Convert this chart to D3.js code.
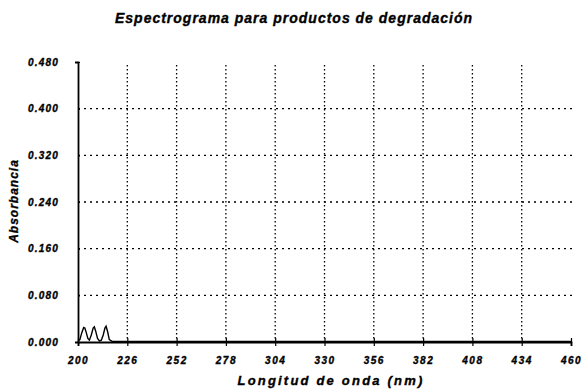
<!DOCTYPE html>
<html>
<head>
<meta charset="utf-8">
<script src="https://cdn.jsdelivr.net/npm/d3@7"></script>
<style>
  body { margin: 0; background: #fff; }
  text { font-family: "Liberation Sans", Arial, sans-serif; font-weight: bold; font-style: italic; fill: #000; stroke: #000; stroke-width: 0.35px; }
</style>
</head>
<body>
<div id="chart"></div>
<script>
// data
var wavelength = [200, 201, 202, 203, 203.6, 204.3, 205.2, 206, 207, 208, 208.6, 209.3, 210.3, 211.3, 212.3, 213.3, 214.2, 214.8, 215.6, 216.5, 218, 240, 280, 320, 360, 400, 440, 460];
var absorbance = [0.002, 0.004, 0.016, 0.025, 0.024, 0.017, 0.006, 0.003, 0.012, 0.024, 0.026, 0.019, 0.006, 0.002, 0.003, 0.012, 0.024, 0.027, 0.018, 0.004, 0.001, 0.001, 0.001, 0.001, 0.001, 0.001, 0.001, 0.001];
var xTicks = [200, 226, 252, 278, 304, 330, 356, 382, 408, 434, 460];
var yTicks = [0, 0.08, 0.16, 0.24, 0.32, 0.40, 0.48];

var margin = {top: 62, right: 13, bottom: 48, left: 78},
    width = 585 - margin.left - margin.right,
    height = 390 - margin.top - margin.bottom;

var svg = d3.select("#chart")
  .append("svg")
    .attr("width", 585)
    .attr("height", 390)
  .append("g")
    .attr("transform", "translate(" + margin.left + "," + margin.top + ")");

var x = d3.scaleLinear().domain([200, 460]).range([0, width - 1]);
var y = d3.scaleLinear().domain([0, 0.48]).range([height, 0]);

// dotted grid
svg.append("g")
  .selectAll("line")
  .data(yTicks.slice(1, -1))
  .enter().append("line")
    .attr("x1", 0).attr("x2", width)
    .attr("y1", d => y(d)).attr("y2", d => y(d))
    .attr("stroke", "#000")
    .attr("stroke-width", 1.3)
    .attr("stroke-dasharray", "2,4");

svg.append("g")
  .selectAll("line")
  .data(xTicks.slice(1, -1))
  .enter().append("line")
    .attr("x1", d => x(d)).attr("x2", d => x(d))
    .attr("y1", 3).attr("y2", height)
    .attr("stroke", "#000")
    .attr("stroke-width", 1.3)
    .attr("stroke-dasharray", "1.5,2.5");

// x axis
var xAxis = svg.append("g")
  .attr("transform", "translate(0," + height + ")")
  .call(d3.axisBottom(x).tickValues(xTicks).tickFormat(d3.format("d")).tickSize(4).tickPadding(11));
xAxis.select(".domain").attr("stroke-width", 1.8);
xAxis.selectAll(".tick line").attr("y1", -4).attr("stroke-width", 1.2);
xAxis.selectAll("text").style("font-size", "10px").style("letter-spacing", "1.5px").attr("fill", "#000");

// y axis
var yAxis = svg.append("g")
  .call(d3.axisLeft(y).tickValues(yTicks).tickFormat(d3.format(".3f")).tickSize(3).tickPadding(14));
yAxis.select(".domain").attr("stroke-width", 1.8);
yAxis.selectAll(".tick line").attr("x2", 2).attr("stroke-width", 1.2);
yAxis.selectAll("text").style("font-size", "10px").style("letter-spacing", "1.2px").attr("fill", "#000");
yAxis.selectAll("text").attr("x", -19);

// spectrum line
var line = d3.line()
  .x(function(d, i) { return x(wavelength[i]); })
  .y(function(d) { return y(d); });

svg.append("path")
  .datum(absorbance)
  .attr("fill", "none")
  .attr("stroke", "#000")
  .attr("stroke-width", 1.4)
  .attr("d", line);

// titles
var root = d3.select("svg");
root.append("text")
  .attr("x", 294).attr("y", 23)
  .attr("text-anchor", "middle")
  .style("font-size", "14px")
  .style("letter-spacing", "1px")
  .text("Espectrograma para productos de degradación");

root.append("text")
  .attr("x", 331).attr("y", 385)
  .attr("text-anchor", "middle")
  .style("font-size", "13px")
  .style("letter-spacing", "2.2px")
  .text("Longitud de onda (nm)");

root.append("text")
  .attr("transform", "translate(18,201) rotate(-90)")
  .attr("text-anchor", "middle")
  .style("font-size", "12px")
  .style("letter-spacing", "1px")
  .text("Absorbancia");
</script>
</body>
</html>
